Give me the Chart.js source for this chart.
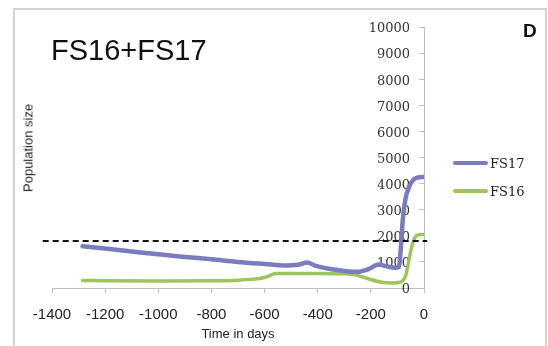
<!DOCTYPE html>
<html>
<head>
<meta charset="utf-8">
<script src="https://cdn.jsdelivr.net/npm/chart.js@4/dist/chart.umd.min.js"></script>
<style>
  html, body { margin: 0; padding: 0; background: #fff; }
  #wrap { position: relative; width: 548px; height: 346px; overflow: hidden; }
  #frame { position: absolute; left: 13px; top: 8px; width: 530px; height: 336px;
           border-left: 2px solid #d4d4d4; border-top: 2px solid #d4d4d4; border-right: 2px solid #d4d4d4; }
  canvas { position: absolute; left: 0; top: 0; }
  .txt { position: absolute; white-space: nowrap; line-height: 1; color: #111; }
  #title { left: 51px; top: 34px; font: 29px "Liberation Sans", Arial, sans-serif; }
  #panel { left: 523px; top: 20px; font: bold 19px "Liberation Sans", Arial, sans-serif; }
  #ylab { left: 28px; top: 148px; font: 13px "Liberation Sans", Arial, sans-serif; color: #222;
          transform: translate(-50%, -50%) rotate(-90deg); }
  #legend { position: absolute; left: 453px; top: 149px; }
  .item { display: flex; align-items: center; height: 28px; }
  .swatch { width: 35px; height: 4px; border-radius: 2px; margin-right: 2px; }
  .item span { font: 13px "DejaVu Serif", serif; color: #222; }
</style>
</head>
<body>
<div id="wrap">
  <div id="frame"></div>
  <canvas id="chart" width="548" height="346"></canvas>
  <div class="txt" id="title">FS16+FS17</div>
  <div class="txt" id="panel">D</div>
  <div class="txt" id="ylab">Population size</div>
  <div id="legend"></div>
</div>
<script>
// values (time in days, population size)
const fs17Days = [-1285, -1200, -1100, -1000, -900, -800, -700, -600, -520, -470, -440, -410, -320, -250, -210, -170, -140, -110, -95, -88, -80, -70, -55, -40, -25, -10, 0];
const fs17Size = [1600, 1510, 1400, 1290, 1190, 1100, 1000, 920, 860, 900, 980, 860, 680, 620, 720, 900, 830, 780, 800, 1400, 2600, 3400, 3900, 4150, 4230, 4250, 4250];

const fs16Days = [-1285, -1200, -1000, -800, -700, -640, -600, -575, -560, -500, -400, -300, -260, -230, -200, -165, -120, -95, -80, -68, -58, -48, -38, -28, -15, 0];
const fs16Size = [290, 280, 270, 280, 300, 340, 400, 500, 560, 560, 560, 550, 510, 420, 320, 230, 190, 210, 280, 500, 1000, 1500, 1850, 2000, 2050, 2050];

const thresholdDays = [-1435, 12];
const thresholdSize = [1800, 1800];

const seriesNames = ['FS17', 'FS16'];
const seriesColors = ['#7a7cbf', '#9cc657'];

const xTicks = [-1400, -1200, -1000, -800, -600, -400, -200, 0];
const yTicks = [0, 1000, 2000, 3000, 4000, 5000, 6000, 7000, 8000, 9000, 10000];

function toPoints(xs, ys) {
    return xs.map((x, i) => ({ x: x, y: ys[i] }));
}

// html legend built from the series lists
const legendEl = document.getElementById('legend');
seriesNames.forEach((name, i) => {
    const row = document.createElement('div');
    row.className = 'item';
    row.innerHTML = '<div class="swatch" style="background:' + seriesColors[i] + '"></div><span>' + name + '</span>';
    legendEl.appendChild(row);
});

new Chart(document.getElementById('chart'), {
    type: 'line',
    data: {
        datasets: [
            {
                label: 'threshold',
                data: toPoints(thresholdDays, thresholdSize),
                borderColor: '#111',
                borderWidth: 2,
                borderDash: [6, 4],
                pointRadius: 0,
                clip: false
            },
            {
                label: seriesNames[0],
                data: toPoints(fs17Days, fs17Size),
                borderColor: seriesColors[0],
                borderWidth: 4.5,
                pointRadius: 0,
                cubicInterpolationMode: 'monotone',
                borderCapStyle: 'round'
            },
            {
                label: seriesNames[1],
                data: toPoints(fs16Days, fs16Size),
                borderColor: seriesColors[1],
                borderWidth: 3.5,
                pointRadius: 0,
                cubicInterpolationMode: 'monotone',
                borderCapStyle: 'round'
            }
        ]
    },
    options: {
        responsive: false,
        animation: false,
        layout: { padding: { left: 52, right: 124, top: 27, bottom: 0 } },
        plugins: { legend: { display: false }, tooltip: { enabled: false } },
        scales: {
            x: {
                type: 'linear',
                min: -1400,
                max: 0,
                afterBuildTicks: (s) => { s.ticks = xTicks.map(v => ({ value: v })); },
                afterFit: (s) => { s.height = 58; },
                grid: { drawOnChartArea: false, tickLength: 5, color: '#bdbdbd' },
                border: { color: '#bdbdbd', width: 1 },
                ticks: {
                    padding: 13,
                    maxRotation: 0,
                    color: '#222',
                    font: { family: '"Liberation Sans", Arial, sans-serif', size: 15 },
                    callback: (v) => String(v)
                },
                title: {
                    display: true,
                    text: 'Time in days',
                    color: '#222',
                    padding: { top: 0, bottom: 4 },
                    font: { family: '"Liberation Sans", Arial, sans-serif', size: 13 }
                }
            },
            y: {
                type: 'linear',
                position: 'right',
                min: 0,
                max: 10000,
                afterBuildTicks: (s) => { s.ticks = yTicks.map(v => ({ value: v })); },
                afterFit: (s) => { s.width = 0; },
                grid: { drawOnChartArea: false, tickLength: -5, color: '#bdbdbd' },
                border: { color: '#bdbdbd', width: 1 },
                ticks: {
                    mirror: true,
                    padding: -14,
                    labelOffset: 2,
                    color: '#333',
                    font: { family: '"DejaVu Serif", serif', size: 13 },
                    callback: (v) => String(v)
                }
            }
        }
    }
});
</script>
</body>
</html>
